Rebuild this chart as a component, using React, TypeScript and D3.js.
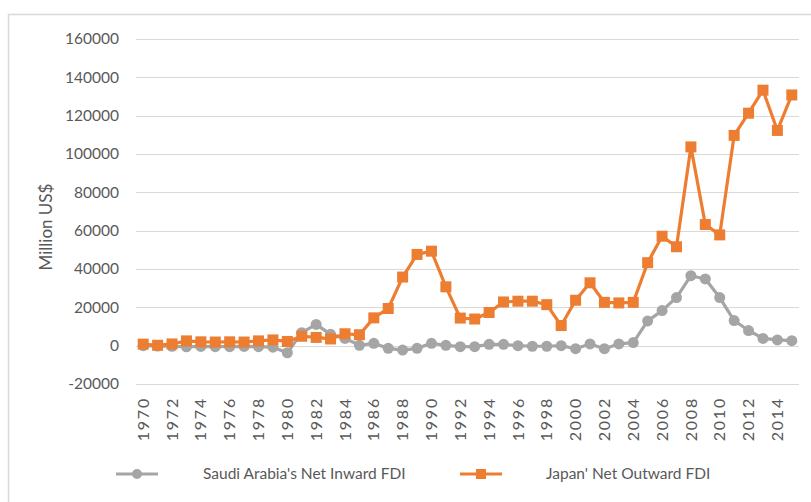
import React, { useRef, useEffect } from "react";
import { select, scaleBand, scaleLinear, line } from "d3";

const years: number[] = Array.from({ length: 46 }, (_, i) => 1970 + i);

// Saudi Arabia's Net Inward FDI (million US$)
const saudiValues = [
  0, -200, -300, -600, -400, -500, -500, -400, -500, -800,
  -3700, 6800, 11100, 5900, 3800, 200, 1200, -1400, -2300, -1400,
  1200, 200, -500, -500, 700, 700, 0, -300, -300, 0,
  -1600, 900, -1600, 900, 1600, 12900, 18300, 25100, 36500, 34800,
  25100, 13100, 7900, 3800, 3000, 2600,
];

// Japan' Net Outward FDI (million US$)
const japanValues = [
  800, 200, 900, 2500, 2000, 1900, 2000, 1900, 2500, 3000,
  2200, 4900, 4300, 3500, 6200, 5700, 14500, 19400, 35800, 47600,
  49300, 30700, 14400, 13900, 17300, 22800, 23200, 23200, 21400, 10500,
  23700, 32800, 22600, 22300, 22600, 43300, 57100, 51600, 103700, 63200,
  57800, 109700, 121300, 133300, 112300, 130800,
];

const yTicks = [-20000, 0, 20000, 40000, 60000, 80000, 100000, 120000, 140000, 160000];
const xTickLabels = years.filter((y) => (y - 1970) % 2 === 0);

const seriesNames = ["Saudi Arabia's Net Inward FDI", "Japan' Net Outward FDI"];

const W = 811;
const H = 502;

export default function App() {
  const svgRef = useRef<SVGSVGElement>(null);

  useEffect(() => {
    const svg = select(svgRef.current);
    svg.selectAll("*").remove();

    const left = 136;
    const right = 799;
    const top = 39;
    const bottom = 384;
    const textColor = "#595959";
    const font = "Lato, 'Open Sans', sans-serif";

    const x = scaleBand<number>().domain(years).range([left, right]);
    const y = scaleLinear().domain([-20000, 160000]).range([bottom, top]);
    const cx = (d: number) => x(d)! + x.bandwidth() / 2;

    // frame
    svg
      .append("rect")
      .attr("x", 8.5)
      .attr("y", 14.5)
      .attr("width", 820)
      .attr("height", 520)
      .attr("fill", "white")
      .attr("stroke", "#d9d9d9")
      .attr("stroke-width", 1.5);

    // grid + y labels
    const g = svg.append("g");
    yTicks.forEach((t) => {
      g.append("line")
        .attr("x1", left)
        .attr("x2", right)
        .attr("y1", Math.round(y(t)) + 0.5)
        .attr("y2", Math.round(y(t)) + 0.5)
        .attr("stroke", "#d9d9d9")
        .attr("stroke-width", 1);
      g.append("text")
        .attr("x", 119)
        .attr("y", y(t))
        .attr("dy", "0.35em")
        .attr("text-anchor", "end")
        .attr("fill", textColor)
        .style("font-family", font)
        .style("font-size", "15.5px")
        .text(String(t));
    });

    // y title
    svg
      .append("text")
      .attr("transform", `translate(52,227) rotate(-90)`)
      .attr("text-anchor", "middle")
      .attr("fill", textColor)
      .style("font-family", font)
      .style("font-size", "17px")
      .text("Million US$");

    // x tick labels
    xTickLabels.forEach((yr) => {
      svg
        .append("text")
        .attr("transform", `translate(${cx(yr)},397) rotate(-90)`)
        .attr("text-anchor", "end")
        .attr("dy", "0.35em")
        .attr("fill", textColor)
        .style("font-family", font)
        .style("font-size", "16px")
        .style("letter-spacing", "1.8px")
        .text(String(yr));
    });

    const series = [
      { name: seriesNames[0], values: saudiValues, color: "#a5a5a5", marker: "circle" },
      { name: seriesNames[1], values: japanValues, color: "#ed7d31", marker: "square" },
    ];

    const lineGen = line<number>()
      .x((_, i) => cx(years[i]))
      .y((d) => y(d));

    series.forEach((s) => {
      const sg = svg.append("g");
      sg.append("path")
        .attr("d", lineGen(s.values)!)
        .attr("fill", "none")
        .attr("stroke", s.color)
        .attr("stroke-width", 3.2)
        .attr("stroke-linejoin", "round");
      if (s.marker === "circle") {
        sg.selectAll("circle")
          .data(s.values)
          .join("circle")
          .attr("cx", (_, i) => cx(years[i]))
          .attr("cy", (d) => y(d))
          .attr("r", 5.5)
          .attr("fill", s.color);
      } else {
        sg.selectAll("rect")
          .data(s.values)
          .join("rect")
          .attr("x", (_, i) => cx(years[i]) - 5.5)
          .attr("y", (d) => y(d) - 5.5)
          .attr("width", 11)
          .attr("height", 11)
          .attr("fill", s.color);
      }
    });

    // legend
    const legendPos = [
      { lx: 116, tx: 203 },
      { lx: 460, tx: 546 },
    ];
    series.forEach((s, i) => {
      const lg = svg.append("g");
      const { lx, tx } = legendPos[i];
      const ly = 474;
      lg.append("line")
        .attr("x1", lx)
        .attr("x2", lx + 42)
        .attr("y1", ly)
        .attr("y2", ly)
        .attr("stroke", s.color)
        .attr("stroke-width", 3.2);
      if (s.marker === "circle") {
        lg.append("circle").attr("cx", lx + 21).attr("cy", ly).attr("r", 5).attr("fill", s.color);
      } else {
        lg.append("rect")
          .attr("x", lx + 21 - 5)
          .attr("y", ly - 5)
          .attr("width", 10)
          .attr("height", 10)
          .attr("fill", s.color);
      }
      lg.append("text")
        .attr("x", tx)
        .attr("y", ly)
        .attr("dy", "0.35em")
        .attr("fill", textColor)
        .style("font-family", font)
        .style("font-size", "15.5px")
        .text(s.name);
    });
  }, []);

  return (
    <svg
      ref={svgRef}
      width={W}
      height={H}
      viewBox={`0 0 ${W} ${H}`}
      style={{ position: "absolute", left: 0, top: 0, background: "white" }}
    />
  );
}
